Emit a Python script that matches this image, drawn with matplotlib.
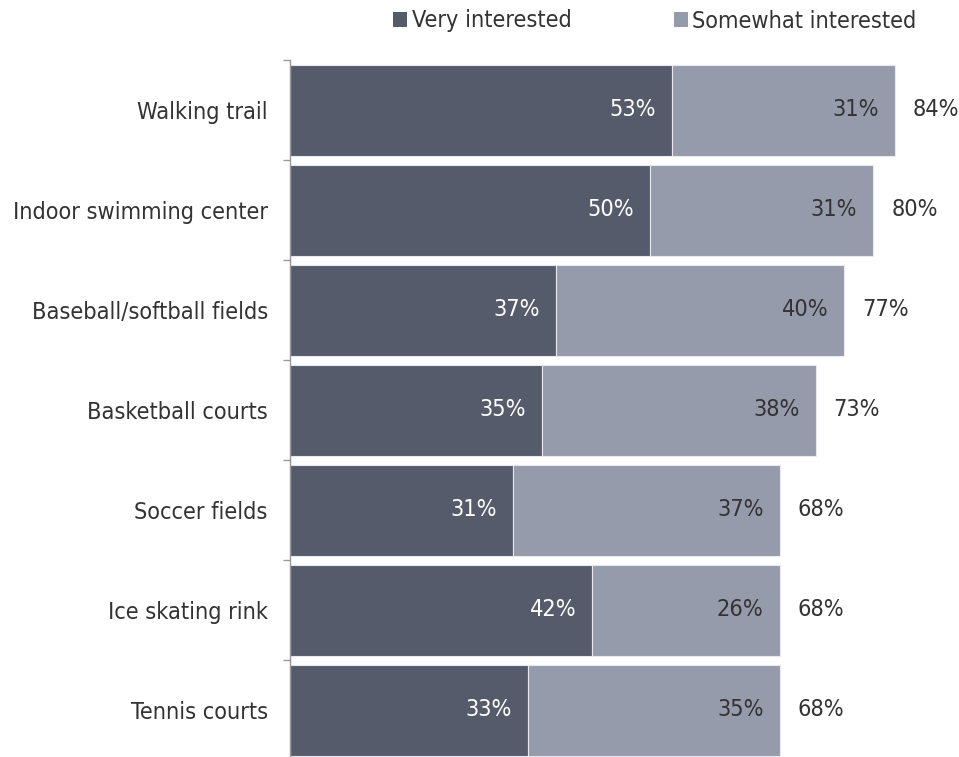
import matplotlib
matplotlib.use("Agg")
import matplotlib.pyplot as plt
import numpy as np
from matplotlib.patches import Patch

categories = ["Walking trail", "Indoor swimming center", "Baseball/softball fields",
              "Basketball courts", "Soccer fields", "Ice skating rink", "Tennis courts"]
very = [53, 50, 37, 35, 31, 42, 33]
somewhat = [31, 31, 40, 38, 37, 26, 35]
totals = [84, 80, 77, 73, 68, 68, 68]
series_names = ["Very interested", "Somewhat interested"]

DARK = "#555b6b"
LIGHT = "#959bab"
TXT = "#333333"
FS = 16.8
font = dict(family="DejaVu Sans", stretch="condensed")

W, H = 959, 757
fig = plt.figure(figsize=(W / 100, H / 100), dpi=100)
ax_left, ax_top, ax_bottom = 290, 60, 760
ax = fig.add_axes([ax_left / W, 1 - ax_bottom / H, 648 / W, (ax_bottom - ax_top) / H])

y = np.arange(len(categories))
b1 = ax.barh(y, very, height=0.91, color=DARK, edgecolor="#e8e9ee", linewidth=0.8)
b2 = ax.barh(y, somewhat, left=very, height=0.91, color=LIGHT, edgecolor="#e8e9ee", linewidth=0.8)

ax.set_xlim(0, 90)
ax.set_ylim(len(categories) - 0.5, -0.5)

for i in range(len(categories)):
    ax.annotate(f"{very[i]}%", (very[i], y[i]), xytext=(-16, 0), textcoords="offset pixels",
                ha="right", va="center", color="white", fontsize=FS, **font)
    ax.annotate(f"{somewhat[i]}%", (very[i] + somewhat[i], y[i]), xytext=(-16, 0),
                textcoords="offset pixels", ha="right", va="center", color=TXT, fontsize=FS, **font)
    ax.annotate(f"{totals[i]}%", (very[i] + somewhat[i], y[i]), xytext=(18, 0),
                textcoords="offset pixels", ha="left", va="center", color=TXT, fontsize=FS, **font)

ax.set_yticks(y)
ax.set_yticklabels(categories, fontsize=FS, color=TXT, **font)
ax.tick_params(axis="y", which="major", length=0, pad=16)
ax.set_yticks(np.arange(-0.5, len(categories) + 0.5, 1), minor=True)
ax.tick_params(axis="y", which="minor", length=5, width=1, color="#999999", direction="out")
ax.set_xticks([])
for s in ["top", "right", "bottom"]:
    ax.spines[s].set_visible(False)
ax.spines["left"].set_color("#999999")
ax.spines["left"].set_linewidth(1)

handles = [Patch(facecolor=DARK, edgecolor="none"), Patch(facecolor=LIGHT, edgecolor="none")]
leg = fig.legend(handles, series_names, loc="center", bbox_to_anchor=(655 / W, 1 - 21 / H),
                 ncol=2, frameon=False, handlelength=0.58, handleheight=0.58,
                 handletextpad=0.2, columnspacing=4.4, borderaxespad=0,
                 prop=dict(size=FS, **font))
for t in leg.get_texts():
    t.set_color(TXT)

fig.savefig("out.png", dpi=100)
